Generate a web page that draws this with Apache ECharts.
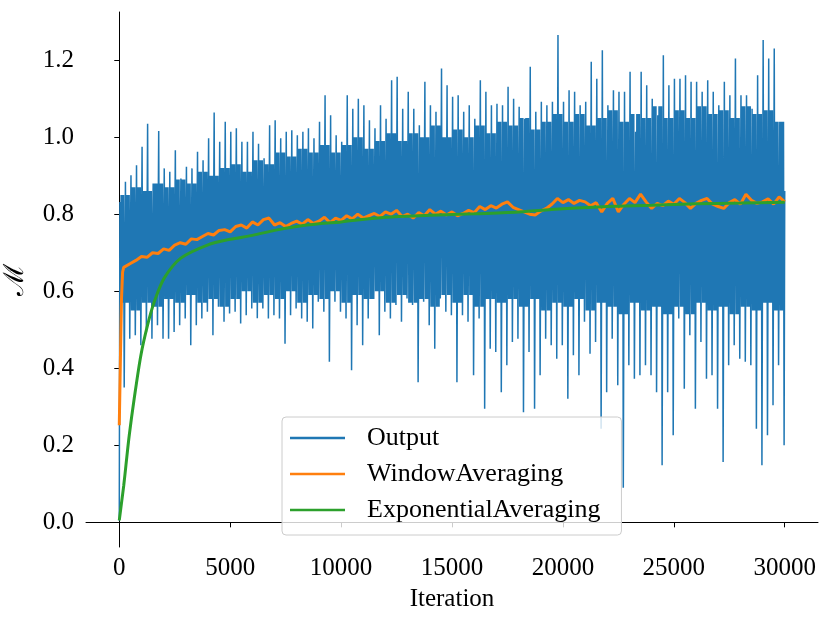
<!DOCTYPE html>
<html>
  <head>
    <meta charset="utf-8">
    <title>Output averaging</title>
  </head>
  <body style="margin:0">
    <div id="main" style="width: 830px;height:624px;"></div>
  </body>
  <script type="text/javascript" src="https://cdn.jsdelivr.net/npm/echarts@6/dist/echarts.min.js"></script>
  <script type="text/javascript">
      // tick labels
      var xTicks = [0, 5000, 10000, 15000, 20000, 25000, 30000];
      var yTicks = [0.0, 0.2, 0.4, 0.6, 0.8, 1.0, 1.2];

      // Output: read per 250-iteration bin, highest spike and lowest dip
      var binWidth = 250;
      var outputHigh = [
        0.832,0.884,0.901,0.927,0.975,1.035,0.880,1.016,0.919,0.910,
        0.966,0.893,0.923,0.919,0.962,0.940,0.997,1.064,0.988,1.040,
        1.014,1.023,0.988,0.988,1.014,0.983,0.945,1.031,1.044,0.997,
        1.014,1.018,1.005,1.014,1.023,0.997,1.040,1.109,1.057,1.005,
        0.988,1.109,1.074,1.100,1.083,1.044,1.023,1.083,1.048,1.148,
        1.157,1.074,1.118,1.074,1.031,1.144,1.083,1.066,1.178,1.135,
        1.105,1.109,1.066,1.083,1.048,1.148,1.118,1.083,1.087,1.083,
        1.131,1.100,1.079,1.048,1.183,1.066,1.092,1.083,1.092,1.265,
        1.092,1.122,1.118,1.083,1.092,1.196,1.152,1.226,1.083,1.122,
        1.118,1.118,1.170,1.014,1.170,1.135,1.100,1.057,1.213,1.135,
        1.152,1.152,1.161,1.144,1.144,1.118,1.148,1.118,1.083,1.144,
        1.109,1.204,1.109,1.109,1.074,1.161,1.252,1.204,1.230,1.040
      ];
      var outputLow = [
        0.350,0.477,0.486,0.460,0.494,0.477,0.512,0.477,0.477,0.494,
        0.512,0.529,0.460,0.512,0.529,0.547,0.486,0.560,0.521,0.542,
        0.547,0.516,0.538,0.555,0.530,0.555,0.529,0.538,0.529,0.464,
        0.538,0.555,0.529,0.521,0.503,0.573,0.547,0.417,0.573,0.547,
        0.529,0.395,0.512,0.460,0.529,0.580,0.486,0.547,0.529,0.564,
        0.521,0.581,0.564,0.364,0.573,0.512,0.451,0.581,0.547,0.538,
        0.364,0.538,0.521,0.382,0.529,0.295,0.451,0.442,0.338,0.408,
        0.468,0.477,0.286,0.442,0.295,0.382,0.477,0.460,0.425,0.460,
        0.321,0.434,0.382,0.521,0.438,0.468,0.243,0.338,0.477,0.356,
        0.090,0.408,0.373,0.382,0.408,0.382,0.338,0.148,0.338,0.226,
        0.529,0.347,0.486,0.295,0.468,0.373,0.382,0.295,0.157,0.408,
        0.460,0.425,0.417,0.408,0.243,0.148,0.226,0.304,0.408,0.200
      ];
      // edges of the solid core of the output band, per 500 iterations
      var coreStep = 500;
      var outputCoreTop = [
        0.85,0.87,0.86,0.88,0.87, 0.89,0.88,0.91,0.90,0.92,
        0.93,0.91,0.94,0.93,0.96, 0.95,0.97,0.96,0.98,0.96,
        0.98,1.00,0.97,0.99,1.01, 0.99,1.01,1.00,1.03,1.00,
        1.02,1.00,1.03,1.01,1.04, 1.03,1.05,1.02,1.04,1.06,
        1.04,1.06,1.03,1.05,1.07, 1.04,1.06,1.05,1.08,1.05,
        1.07,1.05,1.08,1.06,1.07, 1.05,1.08,1.06,1.07,1.04
      ];
      var outputCoreBottom = [
        0.57,0.55,0.57,0.56,0.58, 0.57,0.59,0.57,0.58,0.56,
        0.58,0.60,0.57,0.59,0.58, 0.60,0.57,0.59,0.58,0.60,
        0.57,0.59,0.58,0.60,0.57, 0.59,0.57,0.58,0.56,0.59,
        0.57,0.59,0.56,0.58,0.57, 0.58,0.56,0.58,0.55,0.57,
        0.56,0.58,0.55,0.57,0.56, 0.54,0.57,0.55,0.56,0.54,
        0.56,0.54,0.57,0.55,0.56, 0.54,0.56,0.55,0.57,0.55
      ];
      var outputFirst = [0, 0.005];
      var outputLast = [30000, 0.86];

      // WindowAveraging
      var windowEarlyIter = [0, 50, 100, 150, 200];
      var windowEarly = [0.252, 0.42, 0.58, 0.65, 0.662];
      var windowStep = 250;
      var windowValues = [
        0.665,0.672,0.680,0.690,0.688,0.700,0.698,0.710,0.706,0.720,
        0.726,0.722,0.736,0.734,0.742,0.750,0.746,0.758,0.760,0.754,
        0.768,0.772,0.764,0.780,0.772,0.786,0.790,0.772,0.778,0.768,
        0.776,0.782,0.774,0.786,0.776,0.782,0.792,0.778,0.790,0.784,
        0.796,0.788,0.800,0.790,0.796,0.802,0.794,0.806,0.800,0.810,
        0.794,0.800,0.790,0.804,0.796,0.812,0.800,0.808,0.798,0.806,
        0.796,0.802,0.810,0.804,0.820,0.812,0.822,0.816,0.826,0.832,
        0.818,0.812,0.806,0.800,0.798,0.808,0.815,0.826,0.841,0.830,
        0.838,0.828,0.836,0.832,0.822,0.830,0.806,0.828,0.841,0.806,
        0.826,0.841,0.830,0.852,0.832,0.815,0.828,0.822,0.834,0.826,
        0.841,0.830,0.815,0.828,0.836,0.841,0.826,0.820,0.815,0.830,
        0.838,0.826,0.852,0.836,0.828,0.832,0.840,0.826,0.845,0.832
      ];

      // ExponentialAveraging
      var expIter = [0,100,200,300,450,675,975,1275,1575,2025,2775,3975,5000,6000,7000,8000,9000,10000,
                     12000,14000,16000,18000,20000,22000,24000,26000,28000,30000];
      var expValues = [0.005,0.05,0.095,0.148,0.226,0.322,0.434,0.512,0.572,0.634,0.686,0.72,0.735,0.745,0.758,0.768,0.775,0.78,
                       0.792,0.797,0.801,0.806,0.814,0.82,0.823,0.827,0.829,0.831];

      // build series data: inside each bin go up to the spike, sweep the core a few times, then down to the dip
      var outputData = [outputFirst];
      for (var i = 0; i < outputHigh.length; i++) {
          var x0 = i * binWidth;
          var k = Math.floor(x0 / coreStep);
          var seq = [outputHigh[i],
                     outputCoreBottom[k], outputCoreTop[k],
                     outputCoreBottom[k], outputCoreTop[k],
                     outputCoreBottom[k], outputCoreTop[k],
                     outputLow[i]];
          var q = binWidth / (seq.length + 1);
          for (var j = 0; j < seq.length; j++) {
              outputData.push([x0 + (j + 1) * q, seq[j]]);
          }
      }
      outputData.push(outputLast);

      var windowData = windowEarlyIter.map(function (x, j) { return [x, windowEarly[j]]; });
      windowValues.forEach(function (v, j) { windowData.push([(j + 1) * windowStep, v]); });

      var expData = expIter.map(function (x, j) { return [x, expValues[j]]; });

      var serif = 'Liberation Serif';
      var myChart = echarts.init(document.getElementById('main'));
      myChart.setOption({
          animation: false,
          backgroundColor: '#ffffff',
          grid: { left: 86, right: 12, top: 12, bottom: 77, outerBoundsMode: 'none' },
          legend: {
              orient: 'vertical',
              left: 282,
              top: 417,
              padding: [8, 21, 12, 8],
              itemWidth: 55,
              itemHeight: 2.5,
              itemGap: 10,
              icon: 'rect',
              backgroundColor: 'rgba(255,255,255,0.8)',
              borderColor: '#cccccc',
              borderWidth: 1,
              borderRadius: 4,
              textStyle: { fontFamily: serif, fontSize: 26, color: '#000', lineHeight: 26, padding: [0, 0, 0, 17] },
              data: ['Output', 'WindowAveraging', 'ExponentialAveraging']
          },
          xAxis: {
              type: 'value',
              min: -1500,
              max: 31500,
              name: 'Iteration',
              nameLocation: 'middle',
              nameGap: 40,
              nameTextStyle: { fontFamily: serif, fontSize: 25, color: '#000' },
              axisLine: { lineStyle: { color: '#000', width: 1 } },
              axisTick: { customValues: xTicks, length: 5, lineStyle: { color: '#000' } },
              axisLabel: {
                  customValues: xTicks, fontFamily: serif, fontSize: 25, color: '#000', margin: 9,
                  formatter: function (v) { return String(v); }
              },
              splitLine: { show: false }
          },
          yAxis: {
              type: 'value',
              min: -0.064,
              max: 1.325,
              name: 'ℳ',
              nameLocation: 'middle',
              nameRotate: 90,
              nameGap: 56,
              nameTextStyle: { fontFamily: 'DejaVu Serif', fontSize: 28, color: '#000' },
              axisLine: { show: true, lineStyle: { color: '#000', width: 1 } },
              axisTick: { show: true, customValues: yTicks, length: 5, lineStyle: { color: '#000' } },
              axisLabel: {
                  customValues: yTicks, fontFamily: serif, fontSize: 25, color: '#000', margin: 12,
                  formatter: function (v) { return v.toFixed(1); }
              },
              splitLine: { show: false }
          },
          series: [{
              name: 'Output',
              type: 'line',
              data: outputData,
              showSymbol: false,
              color: '#1f77b4',
              lineStyle: { width: 1.5 }
          }, {
              name: 'WindowAveraging',
              type: 'line',
              data: windowData,
              showSymbol: false,
              color: '#ff7f0e',
              lineStyle: { width: 3 }
          }, {
              name: 'ExponentialAveraging',
              type: 'line',
              data: expData,
              showSymbol: false,
              smooth: 0.3,
              color: '#2ca02c',
              lineStyle: { width: 3 }
          }]
      });
  </script>
</html>
